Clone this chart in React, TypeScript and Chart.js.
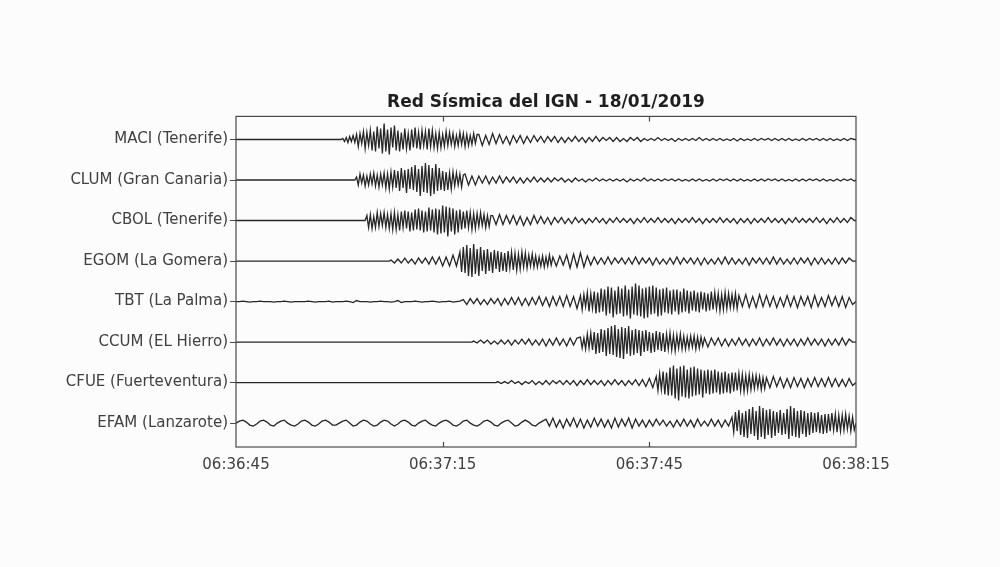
import React, { useEffect, useRef } from "react";
import { Chart, registerables } from "chart.js";

Chart.register(...registerables);

const chartTitle = "Red Sísmica del IGN - 18/01/2019";
const stations = [
  "MACI (Tenerife)",
  "CLUM (Gran Canaria)",
  "CBOL (Tenerife)",
  "EGOM (La Gomera)",
  "TBT (La Palma)",
  "CCUM (EL Hierro)",
  "CFUE (Fuerteventura)",
  "EFAM (Lanzarote)",
];
const xTickSeconds = [0, 30, 60, 90];
const xTickLabels = ["06:36:45", "06:37:15", "06:37:45", "06:38:15"];
const LEAD_STEP = 0.5; // s between samples before the strong phase
const BURST_STEP = 0.25; // s between samples in the strong phase
const CODA_STEP = 0.5; // s between samples after the strong phase
// seconds after 06:36:45 at which each trace's samples start (flat before)
const onsets = [15.5, 17.5, 19, 22.5, 0, 34.5, 38, 0];

// ---- MACI (Tenerife)
const maciLead: number[] = [];
const maciBurst = [
  1, -2, 2, -3, 3, -2, 4, -3,
  5, -7, 6, -4, 8, -9, 7, -6,
  9, -11, 8, -12, 13, -9, 11, -14,
  16, -12, 10, -15, 12, -8, 14, -11,
  9, -12, 7, -10, 11, -9, 6, -11,
  10, -8, 12, -9, 7, -10, 9, -6,
  8, -10, 11, -7, 9, -8, 6, -9,
  7, -8, 5, -7, 8, -6, 7, -5,
  6, -7, 4, -6, 7, -5, 6, -7,
  5, -6, 4, -5, 6, -4, 5,
];
const maciCoda = [
  5, -6, 4, -5, 6, -4, 5, -4, 3, -5,
  4, -3, 4, -4, 3, -3, 4, -2, 3, -3,
  3, -2, 3, -3, 2, -3, 2, -2, 3, -2,
  2, -3, 2, -2, 3, -2, 2, -1, 2, -2,
  2, -2, 1, -2, 2, -1, 2, -2, 1, -1,
  1, -1, 2, -1, 1, -1, 1, -2, 1, -1,
  1, -1, 1, -1, 2, -1, 1, -1, 1, -1,
  1, -1, 0.5, -1, 1, -1.5, 1, -1, 0.5, -1,
  1, -1, 1, -0.5, 1, -1, 1, -1, 1, -1,
  1, -1, 0.5, -1, 1, -1, 1, -0.5, 1, -1,
  1, -1, 1, -1, 0.5, -1, 1, -1, 1, 0,
];

// ---- CLUM (Gran Canaria)
const clumLead: number[] = [];
const clumBurst = [
  3, -5, 6, -3, 5, -6, 4, -5,
  6, -4, 7, -6, 5, -7, 6, -5,
  7, -8, 6, -9, 8, -7, 10, -8,
  9, -11, 12, -8, 10, -13, 11, -9,
  13, -10, 15, -12, 11, -16, 14, -12,
  17, -13, 15, -16, 12, -14, 16, -11,
  12, -10, 9, -11, 8, -10, 7, -9,
  8, -6, 7, -5, 6, -7, 5,
];
const clumCoda = [
  6, -5, 4, -5,
  4, -3, 4, -4, 3, -3, 4, -3, 3, -2,
  3, -3, 2, -3, 2, -2, 3, -2, 2, -2,
  2, -2, 2, -1, 2, -2, 1, -2, 2, -1,
  1, -2, 1, -1, 2, -1, 1, -1, 1, -1,
  1, -1, 1, -2, 1, -1, 1, -1, 2, -1,
  1, -1, 1, -1, 1, -0.5, 1, -1, 1, -1,
  0.5, -1, 1, -1, 1, -1, 0.5, -1, 1, -1,
  1, -0.5, 1, -1, 1, -1, 1, -1, 0.5, -1,
  1, -1, 1, -1, 1, -0.5, 1, -1, 1, -1,
  0.5, -1, 1, -1, 1, -1, 1, -0.5, 1, -1,
  1, -1, 0.5, -1, 1, -1, 1, -0.5, 1, -1, 1, 0,
];

// ---- CBOL (Tenerife)
const cbolLead: number[] = [];
const cbolBurst = [
  5, -7, 6, -8, 4, -7, 8, -6,
  7, -5, 8, -7, 6, -8, 7, -9,
  8, -9, 6, -10, 9, -7, 10, -8,
  9, -11, 8, -10, 11, -9, 12, -10,
  10, -12, 9, -11, 13, -10, 11, -12,
  12, -14, 11, -13, 15, -12, 14, -16,
  13, -11, 12, -14, 10, -12, 11, -9,
  9, -8, 10, -7, 8, -9, 7, -8,
  7, -6, 8, -5, 6, -7, 5, -6, 5,
];
const cbolCoda = [
  5, -4, 6, -4, 5, -3,
  5, -4, 4, -5, 3, -4, 5, -3, 4, -3,
  3, -4, 3, -2, 3, -3, 2, -3, 3, -2,
  2, -3, 2, -2, 3, -2, 2, -3, 2, -2,
  3, -2, 2, -2, 2, -3, 2, -2, 3, -2,
  2, -2, 3, -2, 2, -2, 2, -3, 2, -2,
  2, -2, 3, -2, 2, -3, 2, -2, 2, -2,
  3, -2, 2, -2, 2, -3, 2, -2, 2, -3,
  2, -2, 2, -2, 3, -2, 2, -2, 2, -3,
  2, -2, 3, -2, 2, -2, 2, -2, 3, -2,
  2, -3, 2, -2, 3, -2, 2, -2, 3, 0,
];

// ---- EGOM (La Gomera)
const egomLead = [
  1, -2, 2, -2, 3, -2, 2, -3, 3, -2,
  3, -3, 4, -3, 4, -5, 4, -5, 6, -5,
];
const egomBurst = [
  9, -11, 14, -12, 16, -15, 13, -16,
  17, -13, 12, -15, 14, -10, 11, -13,
  12, -10, 9, -12, 11, -8, 10, -11,
  9, -10, 8, -11, 10, -7, 9, -9,
  8, -9, 7, -8, 9, -6, 8, -7,
  6, -5, 7, -6, 5, -6, 4, -5,
  5, -6, 4, -5, 6, -4,
];
const egomCoda = [
  4, -5, 5, -4,
  6, -7, 7, -6, 8, -6, 5, -4,
  4, -3, 3, -3, 4, -3, 3, -2, 3, -3,
  3, -3, 4, -3, 3, -2, 3, -4, 3, -3,
  2, -3, 3, -3, 4, -3, 3, -2, 3, -3,
  3, -4, 3, -3, 2, -3, 3, -3, 4, -3,
  3, -3, 2, -3, 3, -4, 3, -2, 3, -3,
  3, -3, 4, -3, 3, -3, 2, -3, 3, -3,
  3, -2, 3, -4, 3, -3, 3, -3, 2, -3,
  3, -3, 3, -2, 3, 0,
];

// ---- TBT (La Palma)
const tbtLead = [
  0, 0, 0.5, 0, -0.5, 0, 0, 0.5, 0, 0,
  0, -0.5, 0, 0, 0.5, 0, -0.5, 0, 0, 0,
  0, 0.5, 0, -0.5, 0, 0, 0, 0.5, -0.5, 0,
  0, 0, 0.5, 0, -1, 1, 0, 0, 0, -0.5,
  0, 0, 0.5, 0, 0, -0.5, 0, 1, -1, 0,
  0, 0, 0.5, 0, -0.5, 0, 0, 0.5, 0, -0.5,
  0, 0, 0.5, -0.5, 0, 0.5,
  2, -3, 3, -2, 3, -3, 2, -3, 3, -2,
  3, -4, 3, -3, 4, -3, 4, -4, 3, -4,
  4, -3, 5, -4, 4, -5, 5, -4, 5, -5,
  6, -5, 5, -7,
];
const tbtBurst = [
  6, -8, 7, -5, 9, -10, 8, -7,
  10, -12, 9, -11, 13, -10, 12, -14,
  15, -12, 14, -16, 11, -13, 15, -12,
  13, -15, 16, -14, 12, -17, 15, -13,
  18, -14, 16, -15, 13, -17, 14, -16,
  15, -13, 16, -12, 14, -15, 12, -14,
  13, -11, 14, -12, 11, -13, 12, -10,
  12, -13, 10, -11, 13, -10, 11, -12,
  10, -9, 11, -10, 9, -11, 10, -8,
  9, -10, 8, -9, 10, -8, 9, -7,
  8, -9, 7, -8, 9, -7, 8, -6,
  7, -6, 8, -7,
];
const tbtCoda = [
  6, -5, 7, -6, 5, -6, 7, -5, 6, -5,
  5, -6, 4, -5, 6, -5, 5, -6, 5, -4,
  5, -6, 6, -5, 4, -5, 6, -4, 5, -5,
  5, -6, 4, -3, 0,
];

// ---- CCUM (EL Hierro)
const ccumLead = [
  1, -1, 2, -1, 2, -2, 1, -2, 2, -2,
  2, -3, 2, -2, 3, -2, 3, -3, 2, -3,
  3, -4, 3, -3, 4, -3, 3, -4, 4, -3,
  4,
];
const ccumBurst = [
  5, -6, 4, -7, 8, -6, 9, -8,
  10, -12, 9, -11, 13, -10, 12, -14,
  14, -12, 16, -13, 17, -15, 13, -16,
  15, -17, 14, -12, 16, -14, 12, -13,
  13, -11, 12, -14, 11, -10, 12, -9,
  10, -11, 9, -10, 11, -8, 10, -9,
  9, -10, 8, -7, 9, -8, 7, -9,
  7, -6, 8, -7, 6, -7, 5, -6,
  6, -5, 6, -7, 5, -6, 5, -4,
];
const ccumCoda = [
  4, -5, 4, -3, 4, -4, 3, -4, 3, -3,
  4, -3, 3, -4, 3, -3, 4, -4, 3, -3,
  4, -3, 3, -4, 3, -3, 3, -4, 3, -3,
  4, -3, 3, -3, 3, -4, 3, -3, 3, -3,
  4, -3, 3, 0,
];

// ---- CFUE (Fuerteventura)
const cfueLead = [
  1, -1, 1, -1, 2, -1, 1, -2, 1, -1,
  2, -2, 1, -2, 2, -2, 2, -1, 2, -2,
  2, -2, 2, -3, 2, -2, 3, -2, 2, -2,
  2, -3, 2, -2, 3, -2, 2, -3, 2, -2,
  3, -3, 3, -4, 4, -5,
];
const cfueBurst = [
  6, -8, 9, -7, 11, -12, 10, -13,
  15, -13, 17, -16, 14, -18, 16, -14,
  17, -15, 13, -16, 15, -14, 16, -13,
  14, -12, 13, -15, 12, -11, 13, -12,
  12, -11, 13, -10, 11, -12, 10, -11,
  11, -10, 9, -11, 10, -9, 10, -8,
  9, -8, 8, -9, 7, -8, 8, -7,
  7, -6, 7, -5, 6, -7, 5, -6,
];
const cfueCoda = [
  5, -5, 6, -4, 5, -5, 4, -5, 5, -4,
  4, -5, 4, -4, 5, -4, 4, -4, 5, -4,
  4, -4, 3, -4, 4, -3, 0,
];

// ---- EFAM (Lanzarote)
const efamLead = [
  0, 2, 3, 1, -2, -3, -1, 2, 3, 1,
  -2, -3, 0, 2, 3, 0, -2, -3, -1, 2,
  3, 1, -2, -3, -1, 2, 3, 1, -2, -2,
  0, 2, 3, 0, -3, -2, 1, 3, 2, -1,
  -3, -2, 1, 3, 2, -1, -3, -1, 2, 3,
  1, -2, -3, 0, 2, 3, 0, -2, -3, 0,
  2, 3, 1, -2, -3, -1, 2, 3, 0, -2,
  -3, -1, 2, 3, 1, -2, -3, 0, 2, 3,
  0, -3, -2, 1, 3, 1, -2, -3, 0, 2,
  4, -3, 5, -4, 3, -5, 4, -3, 5, -4,
  4, -5, 3, -4, 5, -3, 4, -4, 3, -5,
  5, -4, 4, -3, 5, -5, 4, -3, 3, -4,
  3, -3, 4, -2, 3, -3, 2, -4, 3, -3,
  4, -3, 3, -4, 4, -3, 2, -3, 4, -3,
  3, -4, 3, -3,
];
const efamBurst = [
  6, -9, 11, -8, 13, -12, 10, -14,
  12, -15, 14, -11, 16, -13, 12, -17,
  17, -14, 15, -16, 13, -12, 14, -15,
  12, -13, 11, -10, 13, -12, 10, -11,
  14, -16, 17, -13, 15, -14, 12, -15,
  13, -11, 12, -14, 10, -12, 11, -10,
  10, -9, 11, -10, 8, -11, 9, -10,
  9, -8, 10, -7, 9, -9, 8, -8,
  8, -7, 9, -6, 7, -8, 6, -7, 0,
];
const efamCoda: number[] = [];

const leads = [maciLead, clumLead, cbolLead, egomLead, tbtLead, ccumLead, cfueLead, efamLead];
const bursts = [maciBurst, clumBurst, cbolBurst, egomBurst, tbtBurst, ccumBurst, cfueBurst, efamBurst];
const codas = [maciCoda, clumCoda, cbolCoda, egomCoda, tbtCoda, ccumCoda, cfueCoda, efamCoda];

const X_MIN = 0;
const X_MAX = 90;
const Y_MIN = -0.57;
const Y_MAX = 7.59;
const AMP = 0.0246; // trace value units -> row units

function buildData(i: number) {
  const row = i;
  const onset = onsets[i];
  const pts: { x: number; y: number }[] = [];
  if (onset > X_MIN) {
    pts.push({ x: X_MIN, y: row });
    pts.push({ x: onset - BURST_STEP, y: row });
  }
  let t = onset;
  const add = (vals: number[], step: number) => {
    vals.forEach((v) => {
      pts.push({ x: t, y: row - v * AMP });
      t += step;
    });
  };
  add(leads[i], LEAD_STEP);
  add(bursts[i], BURST_STEP);
  add(codas[i], CODA_STEP);
  if (t - CODA_STEP < X_MAX) pts.push({ x: X_MAX, y: row });
  return pts;
}

const framePlugin = {
  id: "frame",
  afterDraw(chart: any) {
    const { ctx, chartArea } = chart;
    const { left, right, top, bottom } = chartArea;
    const xs = chart.scales.x;
    ctx.save();
    ctx.strokeStyle = "#4a4a4a";
    ctx.lineWidth = 1.2;
    ctx.strokeRect(left, top, right - left, bottom - top);
    ctx.beginPath();
    [30, 60].forEach((s) => {
      const px = Math.round(xs.getPixelForValue(s)) + 0.5;
      ctx.moveTo(px, bottom);
      ctx.lineTo(px, bottom - 5);
      ctx.moveTo(px, top);
      ctx.lineTo(px, top + 5);
    });
    ctx.stroke();
    ctx.restore();
  },
};

export default function App() {
  const canvasRef = useRef<HTMLCanvasElement | null>(null);

  useEffect(() => {
    if (!canvasRef.current) return;
    Chart.defaults.font.family = "'DejaVu Sans', sans-serif";
    const chart = new Chart(canvasRef.current, {
      type: "line",
      data: {
        datasets: stations.map((name, i) => ({
          label: name,
          data: buildData(i),
          borderColor: "rgba(20,20,20,0.92)",
          borderWidth: 1.3,
          pointRadius: 0,
          tension: 0,
          fill: false,
        })),
      },
      options: {
        animation: false,
        responsive: false,
        maintainAspectRatio: false,
        events: [],
        layout: { padding: { left: 0, right: 144, top: 0, bottom: 0 } },
        plugins: {
          legend: { display: false },
          tooltip: { enabled: false },
          title: {
            display: true,
            text: chartTitle,
            fullSize: false,
            color: "#1e1e1e",
            font: { size: 17, weight: "bold" },
            padding: { top: 92, bottom: 4 },
          },
        },
        scales: {
          x: {
            type: "linear",
            min: X_MIN,
            max: X_MAX,
            afterBuildTicks: (scale: any) => {
              scale.ticks = xTickSeconds.map((v) => ({ value: v }));
            },
            afterFit: (scale: any) => {
              scale.height = 120;
            },
            ticks: {
              autoSkip: false,
              maxRotation: 0,
              padding: 1,
              color: "#404040",
              font: { size: 15 },
              callback: (_v: any, idx: number) => xTickLabels[idx],
            },
            grid: { display: false },
            border: { display: false },
          },
          y: {
            type: "linear",
            min: Y_MIN,
            max: Y_MAX,
            reverse: true,
            afterBuildTicks: (scale: any) => {
              scale.ticks = stations.map((_s, i) => ({ value: i }));
            },
            afterFit: (scale: any) => {
              scale.width = 236;
            },
            ticks: {
              autoSkip: false,
              padding: 2,
              color: "#404040",
              font: { size: 15 },
              callback: (_v: any, idx: number) => stations[idx],
            },
            grid: {
              drawOnChartArea: false,
              drawTicks: true,
              tickLength: 6,
              color: "#4a4a4a",
            },
            border: { display: false },
          },
        },
      },
      plugins: [framePlugin],
    });
    return () => chart.destroy();
  }, []);

  return (
    <div style={{ position: "absolute", left: 0, top: 0, width: 1000, height: 567, background: "#fcfcfc" }}>
      <canvas ref={canvasRef} width={1000} height={567} style={{ width: 1000, height: 567, display: "block" }} />
    </div>
  );
}
